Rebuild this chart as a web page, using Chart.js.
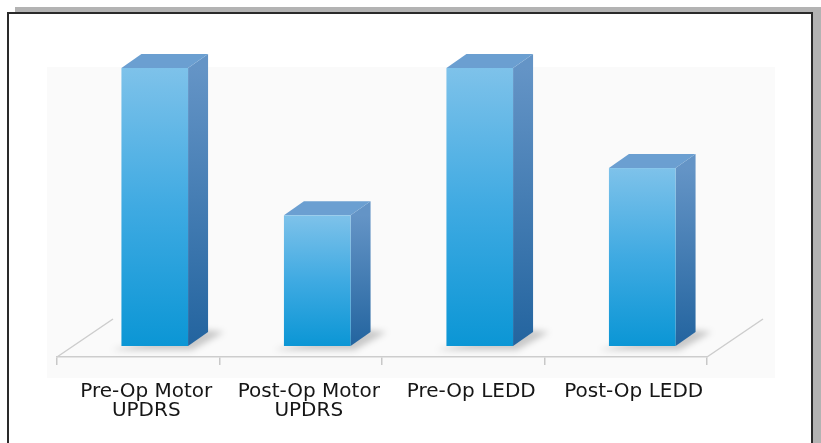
<!DOCTYPE html>
<html>
<head>
<meta charset="utf-8">
<script src="https://cdn.jsdelivr.net/npm/chart.js@4/dist/chart.umd.min.js"></script>
<style>
  html, body { margin: 0; padding: 0; background: #fff; }
  body { width: 821px; height: 443px; position: relative; overflow: hidden; }
  #frame {
    position: absolute; left: 7px; top: 12px;
    width: 802px; height: 440px;
    border: 2px solid #2a2a2a;
    box-shadow: 8px -5px 0 #b3b3b3;
    background: #fff;
  }
  #chart { position: absolute; left: 0; top: 0; z-index: 1; }
</style>
</head>
<body>
<div id="frame"></div>
<canvas id="chart" width="821" height="443"></canvas>
<script>
// data
const categories = [['Pre-Op Motor', 'UPDRS'], ['Post-Op Motor', 'UPDRS'], 'Pre-Op LEDD', 'Post-Op LEDD'];
const values = [100, 47, 100, 64];

// 3d look
const FLOOR_DX = 56, FLOOR_DY = 38;   // floor depth
const SHIFT_X = 16.5, SHIFT_Y = 11;   // bars sit a bit back on the floor
const SIDE_DX = 20, SIDE_DY = 14;     // bar depth

const backdrop = {
  id: 'backdrop',
  beforeDraw(chart) {
    const {ctx, chartArea: a} = chart;
    ctx.save();
    ctx.fillStyle = '#fafafa';
    ctx.fillRect(a.left - 10, a.top - 12, a.right - a.left + 78, a.bottom - a.top + 33);
    ctx.restore();
  },
  beforeDatasetsDraw(chart) {
    const {ctx, chartArea: a} = chart;
    ctx.save();
    ctx.strokeStyle = '#cdcdcd';
    ctx.lineWidth = 1.5;
    ctx.beginPath();
    ctx.moveTo(a.left, a.bottom);
    ctx.lineTo(a.left + FLOOR_DX, a.bottom - FLOOR_DY);
    ctx.moveTo(a.right, a.bottom);
    ctx.lineTo(a.right + FLOOR_DX, a.bottom - FLOOR_DY);
    ctx.stroke();
    ctx.restore();
  }
};

const bars3d = {
  id: 'bars3d',
  afterDatasetsDraw(chart) {
    const {ctx} = chart;
    const meta = chart.getDatasetMeta(0);
    ctx.save();
    meta.data.forEach(bar => {
      const x0 = bar.x - bar.width / 2 + SHIFT_X;
      const x1 = bar.x + bar.width / 2 + SHIFT_X;
      const top = bar.y - SHIFT_Y;
      const base = bar.base - SHIFT_Y;

      // soft shadow on the floor
      ctx.save();
      ctx.filter = 'blur(3px)';
      ctx.fillStyle = 'rgba(0,0,0,0.2)';
      ctx.beginPath();
      ctx.moveTo(x0 - 10, base + 4);
      ctx.lineTo(x1 + 4, base + 4);
      ctx.lineTo(x1 + SIDE_DX + 16, base - SIDE_DY);
      ctx.lineTo(x1 + SIDE_DX - 4, base - SIDE_DY - 2);
      ctx.closePath();
      ctx.fill();
      ctx.restore();

      // side face
      let g = ctx.createLinearGradient(0, top, 0, base);
      g.addColorStop(0, '#6494c6');
      g.addColorStop(1, '#23649f');
      ctx.fillStyle = g;
      ctx.beginPath();
      ctx.moveTo(x1, top);
      ctx.lineTo(x1 + SIDE_DX, top - SIDE_DY);
      ctx.lineTo(x1 + SIDE_DX, base - SIDE_DY);
      ctx.lineTo(x1, base);
      ctx.closePath();
      ctx.fill();

      // top face
      ctx.fillStyle = '#6b9fd1';
      ctx.beginPath();
      ctx.moveTo(x0, top);
      ctx.lineTo(x0 + SIDE_DX, top - SIDE_DY);
      ctx.lineTo(x1 + SIDE_DX, top - SIDE_DY);
      ctx.lineTo(x1, top);
      ctx.closePath();
      ctx.fill();

      // front face
      g = ctx.createLinearGradient(0, top, 0, base);
      g.addColorStop(0, '#7ec2ea');
      g.addColorStop(0.5, '#3faae2');
      g.addColorStop(1, '#0b96d5');
      ctx.fillStyle = g;
      ctx.fillRect(x0, top, x1 - x0, base - top);
    });
    ctx.restore();
  }
};

new Chart(document.getElementById('chart').getContext('2d'), {
  type: 'bar',
  data: {
    labels: categories,
    datasets: [{
      data: values,
      backgroundColor: 'rgba(0,0,0,0)',
      borderWidth: 0,
      barPercentage: 0.41,
      categoryPercentage: 1
    }]
  },
  options: {
    responsive: false,
    animation: false,
    events: [],
    layout: { padding: { left: 57, right: 114, top: 79, bottom: 0 } },
    plugins: { legend: { display: false }, tooltip: { enabled: false } },
    scales: {
      x: {
        afterFit(scale) { scale.height = 86; },
        grid: { drawOnChartArea: false, drawTicks: true, tickLength: 8, color: '#c8c8c8', lineWidth: 1.5 },
        border: { color: '#cdcdcd', width: 1.5 },
        ticks: {
          color: '#161616',
          padding: 17,
          labelOffset: 8,
          maxRotation: 0,
          autoSkip: false,
          font: { family: 'DejaVu Sans', size: 20, lineHeight: 0.95 }
        }
      },
      y: { display: false, min: 0, max: 100 }
    }
  },
  plugins: [backdrop, bars3d]
});
</script>
</body>
</html>
